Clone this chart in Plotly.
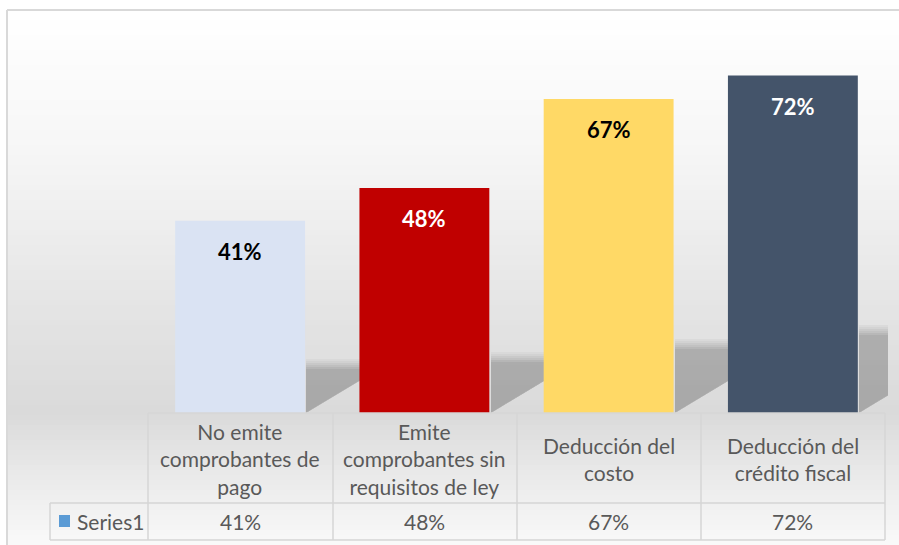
import plotly.graph_objects as go

# chart data
categories = ["No emite<br>comprobantes de<br>pago",
              "Emite<br>comprobantes sin<br>requisitos de ley",
              "Deducción del<br>costo",
              "Deducción del<br>crédito fiscal"]
values = [41, 48, 67, 72]
value_labels = ["41%", "48%", "67%", "72%"]
bar_colors = ["#DAE3F3", "#C00000", "#FFD966", "#44546A"]
label_colors = ["#000000", "#FFFFFF", "#000000", "#FFFFFF"]
series_name = "Series1"
series_color = "#5B9BD5"

W, H = 899, 545
FONT = "Lato"
GRID = "#D6D6D6"
TXT = "#595959"


def px(x):
    return x / W


def py(y):
    return 1 - y / H


def lerp(a, b, t):
    return int(round(a + (b - a) * t))


shapes = []

# chart area gradient (white -> light grey near floor -> white)
stops = [(10, 255), (150, 246), (300, 229), (410, 218), (470, 233), (545, 250)]
y = 10
step = 5
while y < H:
    g = stops[-1][1]
    for (y0, c0), (y1, c1) in zip(stops, stops[1:]):
        if y0 <= y <= y1:
            g = lerp(c0, c1, (y - y0) / (y1 - y0))
            break
    col = f"rgb({g},{g},{g})"
    shapes.append(dict(type="rect", xref="paper", yref="paper", layer="below",
                       x0=px(8), x1=1, y0=py(min(y + step, H)), y1=py(y),
                       fillcolor=col, line=dict(width=0)))
    y += step

# floor shadow behind bars (one patch per gap), soft top edge from thin layers
gaps = [(306, 361, 367), (491, 545, 360), (675, 729, 347), (859, 888, 333)]
for x0, x1, top in gaps:
    w = x1 - x0
    diag = 413 - 0.6 * w
    for dy, a in [(-8, 0.03), (-6, 0.03), (-4, 0.04), (-2, 0.04), (0, 0.05), (2, 0.05)]:
        path = (f"M {px(x0)},{py(top + dy)} L {px(x1)},{py(top + dy)} "
                f"L {px(x1)},{py(diag)} L {px(x0)},{py(413)} Z")
        shapes.append(dict(type="path", xref="paper", yref="paper", layer="below",
                           path=path, fillcolor=f"rgba(0,0,0,{a})", line=dict(width=0)))

# outer frame
shapes.append(dict(type="line", xref="paper", yref="paper", x0=px(7), x1=1, y0=py(10), y1=py(10),
                   line=dict(color="#D9D9D9", width=2)))
shapes.append(dict(type="line", xref="paper", yref="paper", x0=px(7), x1=px(7), y0=py(10), y1=0,
                   line=dict(color="#D9D9D9", width=2)))

# data table grid
col_edges = [148, 333, 517, 701, 885]
for xe in col_edges:
    shapes.append(dict(type="line", xref="paper", yref="paper", x0=px(xe), x1=px(xe),
                       y0=py(413), y1=py(540), line=dict(color=GRID, width=1.5)))
shapes.append(dict(type="line", xref="paper", yref="paper", x0=px(50), x1=px(50),
                   y0=py(503), y1=py(540), line=dict(color=GRID, width=1.5)))
shapes.append(dict(type="line", xref="paper", yref="paper", x0=px(148), x1=px(885),
                   y0=py(413), y1=py(413), line=dict(color=GRID, width=1.5)))
for yy in (503, 540):
    shapes.append(dict(type="line", xref="paper", yref="paper", x0=px(50), x1=px(885),
                       y0=py(yy), y1=py(yy), line=dict(color=GRID, width=1.5)))

# legend key in table
shapes.append(dict(type="rect", xref="paper", yref="paper", x0=px(59), x1=px(70),
                   y0=py(527), y1=py(515), fillcolor=series_color, line=dict(width=0)))

fig = go.Figure()
fig.add_trace(go.Bar(
    x=categories, y=values,
    marker=dict(color=bar_colors, line=dict(width=0)),
    width=0.705,
    name=series_name,
    showlegend=False,
    hoverinfo="skip",
))

annotations = []
for cat, v, lab, lc in zip(categories, values, value_labels, label_colors):
    annotations.append(dict(x=cat, y=v, xref="x", yref="y", text=f"<b>{lab}</b>",
                            showarrow=False, yanchor="top", yshift=-15,
                            font=dict(family=FONT, size=22, color=lc)))
    annotations.append(dict(x=cat, y=py(459), xref="x", yref="paper", text=cat,
                            showarrow=False, yanchor="middle",
                            font=dict(family=FONT, size=21, color=TXT)))
    annotations.append(dict(x=cat, y=py(521), xref="x", yref="paper", text=lab,
                            showarrow=False, yanchor="middle",
                            font=dict(family=FONT, size=21, color=TXT)))
annotations.append(dict(x=px(75), y=py(521), xref="paper", yref="paper", text=series_name,
                        showarrow=False, xanchor="left", yanchor="middle",
                        font=dict(family=FONT, size=21, color=TXT)))

fig.update_layout(
    width=W, height=H,
    margin=dict(l=0, r=0, t=0, b=0),
    paper_bgcolor="#FFFFFF",
    plot_bgcolor="rgba(0,0,0,0)",
    shapes=shapes,
    annotations=annotations,
    xaxis=dict(domain=[px(148), px(885)], range=[-0.5, 3.5], showticklabels=False,
               showgrid=False, zeroline=False, showline=False, fixedrange=True),
    yaxis=dict(domain=[py(413), py(38)], range=[0, 80], visible=False,
               showgrid=False, zeroline=False, fixedrange=True),
    font=dict(family=FONT),
)

# drop the browser's default page margin so the figure fills the window
fig.write_html("out.html", config={"displayModeBar": False},
               post_script="document.body.style.margin='0';")
